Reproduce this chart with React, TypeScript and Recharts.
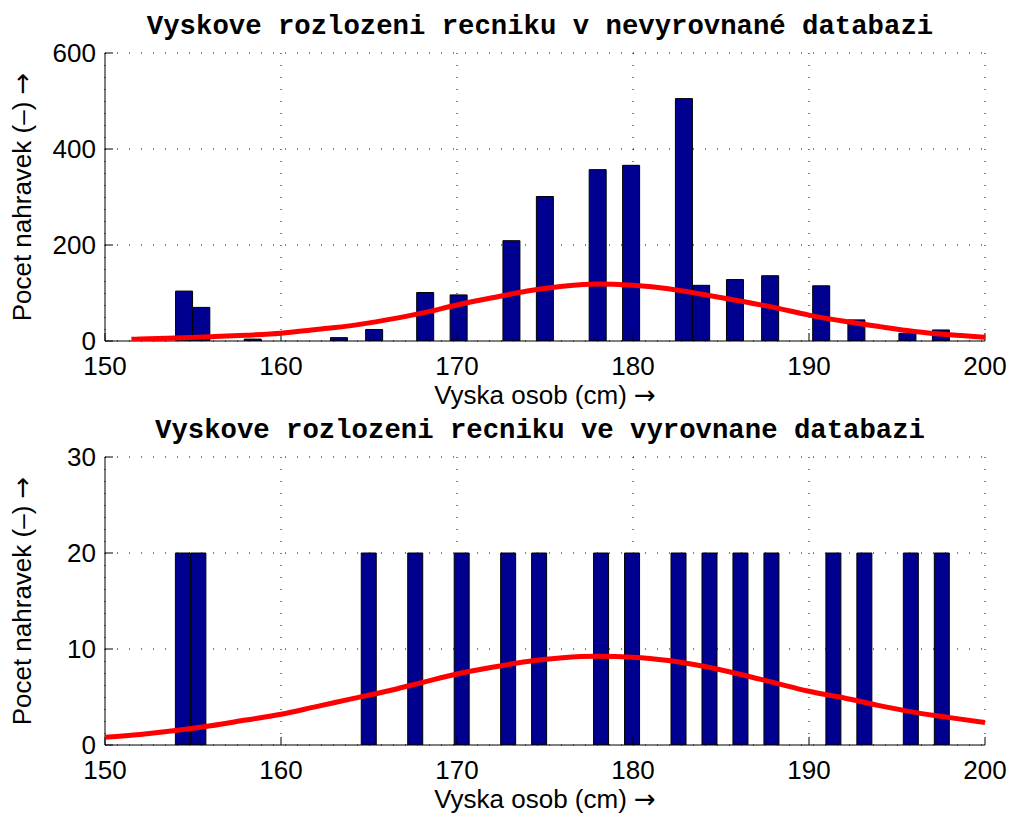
import React from 'react';
import { ComposedChart, LineChart, Bar, Line, XAxis, YAxis, CartesianGrid } from 'recharts';

// upper histogram (unbalanced database)
const topBinX = [154.5, 155.48, 158.4, 163.3, 165.3, 168.2, 170.1, 173.1, 175.0, 178.0, 179.9, 182.9, 183.88, 185.8, 187.8, 190.7, 192.7, 195.6, 197.5];
const topCounts = [104, 70, 4, 7, 24, 101, 96, 209, 301, 357, 366, 505, 116, 128, 136, 115, 44, 16, 23];
const topFitX = [151.5, 152, 154, 156, 158, 160, 162, 164, 166, 168, 170, 172, 174, 176, 178, 180, 182, 184, 186, 188, 190, 192, 194, 196, 198, 200];
const topFitY = [3.5, 4, 6, 9, 12, 16, 24, 32, 44, 58, 75, 90, 104, 114, 119, 116, 109, 97, 84, 70, 54, 41, 30, 20, 13, 8];

// lower histogram (balanced database)
const bottomBinX = [154.44, 155.32, 165.0, 167.64, 170.28, 172.92, 174.68, 178.2, 179.96, 182.6, 184.36, 186.12, 187.88, 191.4, 193.16, 195.8, 197.56];
const bottomCounts = [20, 20, 20, 20, 20, 20, 20, 20, 20, 20, 20, 20, 20, 20, 20, 20, 20];
const bottomFitX = [150, 152, 154, 156, 158, 160, 162, 164, 166, 168, 170, 172, 174, 176, 178, 180, 182, 184, 186, 188, 190, 192, 194, 196, 198, 200];
const bottomFitY = [0.8, 1.1, 1.5, 2.0, 2.6, 3.2, 4.0, 4.8, 5.6, 6.5, 7.4, 8.1, 8.7, 9.1, 9.25, 9.15, 8.8, 8.2, 7.4, 6.5, 5.6, 4.9, 4.1, 3.4, 2.85, 2.35];

const xTicks = [150, 160, 170, 180, 190, 200];
const topYTicks = [0, 200, 400, 600];
const bottomYTicks = [0, 10, 20, 30];

const W = 1011;
const H = 404;
const TICK = 8;
const SANS = '"Liberation Sans", Arial, sans-serif';
const MONO = '"Liberation Mono", "Courier New", monospace';
const ARROW = '"DejaVu Sans", sans-serif';
const margin = { top: 53, right: 26, bottom: 23, left: 45 };
const lineMargin = { top: 53, right: 26, bottom: 63, left: 105 };

const BottomTick = (props: any) => {
  const { x, y, payload } = props;
  return (
    <g>
      <line x1={x} y1={y} x2={x} y2={y - TICK} stroke="#000" />
      <text x={x} y={y + 25} textAnchor="middle" dominantBaseline="central" fontSize={26} fontFamily={SANS} fill="#000">
        {payload.value}
      </text>
    </g>
  );
};

const TopTick = (props: any) => {
  const { x, y } = props;
  return <line x1={x} y1={y} x2={x} y2={y + TICK} stroke="#000" />;
};

const LeftTick = (props: any) => {
  const { x, y, payload } = props;
  return (
    <g>
      <line x1={x} y1={y} x2={x + TICK} y2={y} stroke="#000" />
      <text x={x - 9} y={y} textAnchor="end" dominantBaseline="central" fontSize={26} fontFamily={SANS} fill="#000">
        {payload.value}
      </text>
    </g>
  );
};

const RightTick = (props: any) => {
  const { x, y } = props;
  return <line x1={x} y1={y} x2={x - TICK} y2={y} stroke="#000" />;
};

interface PanelProps {
  top: number;
  title: string;
  binX: number[];
  counts: number[];
  fitX: number[];
  fitY: number[];
  yMax: number;
  yTicks: number[];
}

const Panel: React.FC<PanelProps> = ({ top, title, binX, counts, fitX, fitY, yMax, yTicks }) => {
  const bars = binX.map((x, i) => ({ x, count: counts[i] }));
  const fit = fitX.map((x, i) => ({ x, y: fitY[i] }));
  return (
    <div style={{ position: 'absolute', left: 0, top, width: W, height: H }}>
      <div
        style={{
          position: 'absolute', left: 100, top: 13, width: 880, height: 28, lineHeight: '28px',
          textAlign: 'center', fontFamily: MONO, fontWeight: 'bold', fontSize: 27.3, color: '#000', whiteSpace: 'nowrap',
        }}
      >
        {title}
      </div>
      <div style={{ position: 'absolute', left: 0, top: 0 }}>
        <ComposedChart width={W} height={H} data={bars} margin={margin} barCategoryGap={0} barGap={0}>
          <CartesianGrid stroke="#000" strokeDasharray="1 11" />
          <XAxis
            dataKey="x" type="number" domain={[150, 200]} ticks={xTicks} allowDataOverflow interval={0}
            height={40} tickSize={0} tickMargin={0} tickLine={false} tick={BottomTick} stroke="#000"
          />
          <XAxis
            xAxisId="top" orientation="top" type="number" domain={[150, 200]} ticks={xTicks} allowDataOverflow
            interval={0} height={0} tickSize={0} tickMargin={0} tickLine={false} tick={TopTick} stroke="#000"
          />
          <YAxis
            type="number" domain={[0, yMax]} ticks={yTicks} allowDataOverflow interval={0}
            width={60} tickSize={0} tickMargin={0} tickLine={false} tick={LeftTick} stroke="#000"
          />
          <YAxis
            yAxisId="right" orientation="right" type="number" domain={[0, yMax]} ticks={yTicks} allowDataOverflow
            interval={0} width={0} tickSize={0} tickMargin={0} tickLine={false} tick={RightTick} stroke="#000"
          />
          <Bar dataKey="count" fill="#000090" stroke="#000" strokeWidth={1} isAnimationActive={false} />
        </ComposedChart>
      </div>
      <div style={{ position: 'absolute', left: 0, top: 0 }}>
        <LineChart width={W} height={H} data={fit} margin={lineMargin}>
          <XAxis dataKey="x" type="number" domain={[150, 200]} allowDataOverflow hide />
          <YAxis type="number" domain={[0, yMax]} allowDataOverflow hide />
          <Line type="monotone" dataKey="y" stroke="#ff0000" strokeWidth={5} dot={false} isAnimationActive={false} />
        </LineChart>
      </div>
      <div
        style={{
          position: 'absolute', left: 105, top: 384, width: 880, height: 22, lineHeight: '22px',
          textAlign: 'center', fontFamily: SANS, fontSize: 26, color: '#000', whiteSpace: 'nowrap',
        }}
      >
        Vyska osob (cm) <span style={{ fontFamily: ARROW }}>→</span>
      </div>
      <div
        style={{
          position: 'absolute', left: 22 - 160, top: 197 - 15, width: 320, height: 30, lineHeight: '30px',
          textAlign: 'center', fontFamily: SANS, fontSize: 26, color: '#000', whiteSpace: 'nowrap',
          transform: 'rotate(-90deg)',
        }}
      >
        Pocet nahravek (–) <span style={{ fontFamily: ARROW }}>→</span>
      </div>
    </div>
  );
};

export default function App() {
  return (
    <div style={{ position: 'absolute', left: 0, top: 0, width: W, height: 814, background: '#fff', overflow: 'hidden' }}>
      <Panel
        top={0}
        title="Vyskove rozlozeni recniku v nevyrovnané databazi"
        binX={topBinX}
        counts={topCounts}
        fitX={topFitX}
        fitY={topFitY}
        yMax={600}
        yTicks={topYTicks}
      />
      <Panel
        top={404}
        title="Vyskove rozlozeni recniku ve vyrovnane databazi"
        binX={bottomBinX}
        counts={bottomCounts}
        fitX={bottomFitX}
        fitY={bottomFitY}
        yMax={30}
        yTicks={bottomYTicks}
      />
    </div>
  );
}
